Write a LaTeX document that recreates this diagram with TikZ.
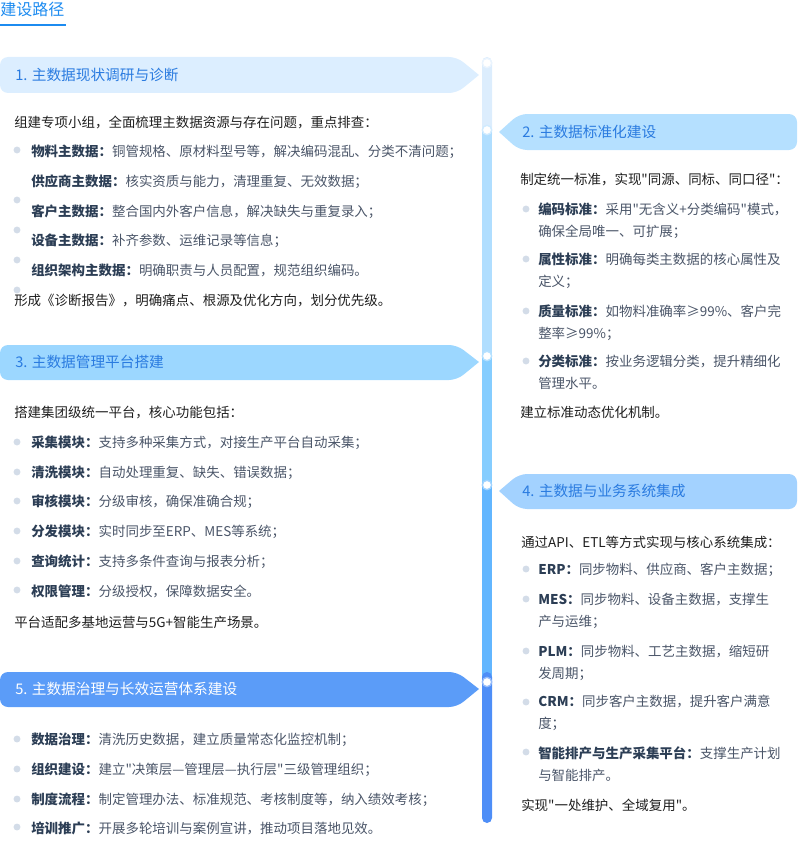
\documentclass[tikz,border=0pt]{standalone}
\usepackage{fontspec}
\setmainfont{Noto Sans CJK SC}[Ligatures=TeXOff]
\definecolor{titleblue}{HTML}{1C8BF0}
\definecolor{headblue}{HTML}{2A7BE0}
\definecolor{hdA}{HTML}{DCEEFF}
\definecolor{hdB}{HTML}{B5E0FF}
\definecolor{hdC}{HTML}{9CD7FF}
\definecolor{hdD}{HTML}{A3D2FF}
\definecolor{hdE}{HTML}{5B9CF8}
\definecolor{segA}{HTML}{DCEDFD}
\definecolor{segB}{HTML}{B0DEFF}
\definecolor{segC}{HTML}{85CDFF}
\definecolor{segD}{HTML}{62B6FF}
\definecolor{segE}{HTML}{4E8EF7}
\definecolor{labdark}{HTML}{2C3E55}
\definecolor{itemtext}{HTML}{4A5568}
\definecolor{introtext}{HTML}{1E1E1E}
\definecolor{dotgray}{HTML}{D3DCE8}
\newcommand{\lbl}[1]{{\bfseries\color{labdark}#1：}}
\begin{document}
\begin{tikzpicture}[x=0.75pt, y=-0.75pt, every node/.style={inner sep=0pt, anchor=west, align=left, font=\fontsize{10.1}{16.5}\selectfont}]
		\tikzstyle{intro} = [text=introtext]
		\tikzstyle{item} = [text=itemtext]
		\tikzstyle{head} = [text=headblue, font=\fontsize{11}{13}\selectfont]
		\tikzstyle{bullet} = [circle, fill=dotgray, minimum size=5.2pt, anchor=center]
		\tikzstyle{knot} = [circle, fill=white, draw, line width=1pt, minimum size=7pt, anchor=center]
		\useasboundingbox (0,0) rectangle (800,842);
		
		% title
		\node[font=\fontsize{12}{14}\selectfont, text=titleblue] (title) at (0,9) {建设路径};
		\draw[titleblue, line width=1.5pt] (0,25) -- (66,25);
		
		% timeline
		\coordinate (k1) at (487,63);
		\coordinate (k2) at (487,130);
		\coordinate (k3) at (487,356);
		\coordinate (k4) at (487,485);
		\coordinate (k5) at (487,682);
		\fill[segA, rounded corners=3.75pt] (482,57) rectangle (492,140);
		\fill[segB] (482,130) rectangle (492,356);
		\fill[segC] (482,356) rectangle (492,485);
		\fill[segD] (482,485) rectangle (492,682);
		\fill[segE, rounded corners=3.75pt] (482,672) rectangle (492,823);
		\fill[segE] (482,682) rectangle (492,700);
		\node[knot, draw=segA!60] (n1) at (k1) {};
		\node[knot, draw=segB!60] (n2) at (k2) {};
		\node[knot, draw=segC!60] (n3) at (k3) {};
		\node[knot, draw=segD!60] (n4) at (k4) {};
		\node[knot, draw=segE!60] (n5) at (k5) {};
		
		% headers
		\fill[hdA] (479,75) [rounded corners=6pt] -- (457,57) -- (0,57) -- (0,93) -- (457,93) -- (479,75);
		\fill[hdC] (479,362) [rounded corners=6pt] -- (457,345) -- (0,345) -- (0,380) -- (457,380) -- (479,362);
		\fill[hdE] (479,689) [rounded corners=6pt] -- (457,672) -- (0,672) -- (0,707) -- (457,707) -- (479,689);
		\fill[hdB] (499,132) [rounded corners=6pt] -- (519,114) -- (797,114) -- (797,150) -- (519,150) -- (499,132);
		\fill[hdD] (499,491) [rounded corners=6pt] -- (519,474) -- (797,474) -- (797,509) -- (519,509) -- (499,491);
		\node[head] (h1) at (15,75) {1. 主数据现状调研与诊断};
		\node[head] (h2) at (522,132) {2. 主数据标准化建设};
		\node[head] (h3) at (15,362) {3. 主数据管理平台搭建};
		\node[head] (h4) at (522,491) {4. 主数据与业务系统集成};
		\node[head, text=white] (h5) at (15,689) {5. 主数据治理与长效运营体系建设};
		
		% step 1
		\node[intro] (a0) at (14,122) {组建专项小组，全面梳理主数据资源与存在问题，重点排查：};
		\node[item] (a1) at (31,152) {\lbl{物料主数据}铜管规格、原材料型号等，解决编码混乱、分类不清问题；};
		\node[item] (a2) at (31,182) {\lbl{供应商主数据}核实资质与能力，清理重复、无效数据；};
		\node[item] (a3) at (31,212) {\lbl{客户主数据}整合国内外客户信息，解决缺失与重复录入；};
		\node[item] (a4) at (31,241) {\lbl{设备主数据}补齐参数、运维记录等信息；};
		\node[item] (a5) at (31,270) {\lbl{组织架构主数据}明确职责与人员配置，规范组织编码。};
		\node[intro] (a6) at (14,301) {形成《诊断报告》，明确痛点、根源及优化方向，划分优先级。};
		\foreach \y in {150,200,230,260,290}
			\node[bullet] at (17,\y) {};
		
		% step 2
		\node[intro] (b0) at (520,180) {制定统一标准，实现"同源、同标、同口径"：};
		\node[item] (b1) at (538,221) {\lbl{编码标准}采用"无含义+分类编码"模式，\\确保全局唯一、可扩展；};
		\node[item] (b2) at (538,271) {\lbl{属性标准}明确每类主数据的核心属性及\\定义；};
		\node[item] (b3) at (538,322.5) {\lbl{质量标准}如物料准确率≥99\%、客户完\\整率≥99\%；};
		\node[item] (b4) at (538,372.5) {\lbl{分类标准}按业务逻辑分类，提升精细化\\管理水平。};
		\node[intro] (b5) at (520,412) {建立标准动态优化机制。};
		\foreach \y in {209,259,311,361}
			\node[bullet] at (526,\y) {};
		
		% step 3
		\node[intro] (c0) at (14,413) {搭建集团级统一平台，核心功能包括：};
		\node[item] (c1) at (31,443) {\lbl{采集模块}支持多种采集方式，对接生产平台自动采集；};
		\node[item] (c2) at (31,473) {\lbl{清洗模块}自动处理重复、缺失、错误数据；};
		\node[item] (c3) at (31,502) {\lbl{审核模块}分级审核，确保准确合规；};
		\node[item] (c4) at (31,532) {\lbl{分发模块}实时同步至ERP、MES等系统；};
		\node[item] (c5) at (31,562) {\lbl{查询统计}支持多条件查询与报表分析；};
		\node[item] (c6) at (31,591) {\lbl{权限管理}分级授权，保障数据安全。};
		\node[intro] (c7) at (14,622) {平台适配多基地运营与5G+智能生产场景。};
		\foreach \y in {442,472,501,531,561,590}
			\node[bullet] at (17,\y) {};
		
		% step 4
		\node[intro] (d0) at (521,542) {通过API、ETL等方式实现与核心系统集成：};
		\node[item] (d1) at (538,570) {\lbl{ERP}同步物料、供应商、客户主数据；};
		\node[item] (d2) at (538,611) {\lbl{MES}同步物料、设备主数据，支撑生\\产与运维；};
		\node[item] (d3) at (538,662.5) {\lbl{PLM}同步物料、工艺主数据，缩短研\\发周期；};
		\node[item] (d4) at (538,713) {\lbl{CRM}同步客户主数据，提升客户满意\\度；};
		\node[item] (d5) at (538,764) {\lbl{智能排产与生产采集平台}支撑生产计划\\与智能排产。};
		\node[intro] (d6) at (521,805) {实现"一处维护、全域复用"。};
		\foreach \y in {569,599,651,702,752}
			\node[bullet] at (526,\y) {};
		
		% step 5
		\node[item] (e1) at (31,740) {\lbl{数据治理}清洗历史数据，建立质量常态化监控机制；};
		\node[item] (e2) at (31,770) {\lbl{组织建设}建立"决策层—管理层—执行层"三级管理组织；};
		\node[item] (e3) at (31,800) {\lbl{制度流程}制定管理办法、标准规范、考核制度等，纳入绩效考核；};
		\node[item] (e4) at (31,828) {\lbl{培训推广}开展多轮培训与案例宣讲，推动项目落地见效。};
		\foreach \y in {739,769,799,827}
			\node[bullet] at (17,\y) {};
	\end{tikzpicture}
\end{document}
